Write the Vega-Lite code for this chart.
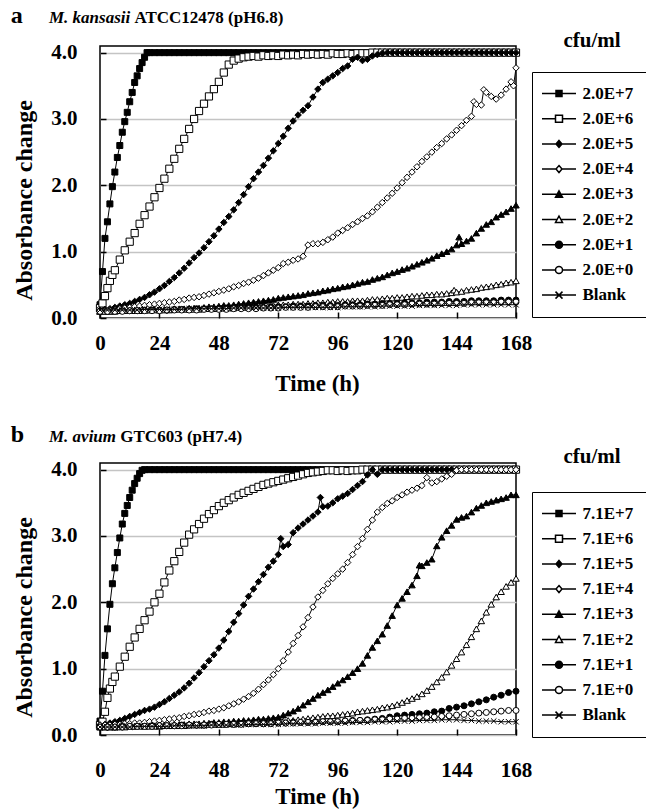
{
"$schema":"https://vega.github.io/schema/vega-lite/v6.json",
"background":"white",
"padding":{"left":10,"top":3,"right":0,"bottom":0},
"resolve":{"scale":{"shape":"independent","fill":"independent","stroke":"independent"},"legend":{"shape":"independent","fill":"independent","stroke":"independent"}},
"config":{
"view":{"stroke":"black","strokeWidth":1.5},
"axis":{"labelFont":"Liberation Serif","labelFontSize":21,"labelFontWeight":"bold","labelColor":"black","titleFont":"Liberation Serif","titleFontSize":23,"titleFontWeight":"bold","titleColor":"black","domain":false,"tickColor":"black","tickWidth":1.5,"tickSize":-6,"gridColor":"#c4c4c4","gridWidth":1.5,"labelFlush":false,"labelOverlap":false},
"axisX":{"grid":false,"titleX":217},
"axisY":{"grid":true,"labelPadding":29,"titlePadding":14,"titleY":154,"titleFontSize":24},
"text":{"font":"Liberation Serif","fontWeight":"bold","fontSize":17,"color":"black","align":"left","baseline":"alphabetic"},
"legend":{"orient":"none","title":null,"padding":13,"strokeColor":"black","symbolSize":4,"symbolStrokeWidth":1.5,"symbolStrokeColor":"black","symbolOpacity":1,"symbolOffset":5.5,"labelOffset":15,"rowPadding":7.2,"labelFont":"Liberation Serif","labelFontSize":17,"labelFontWeight":"bold","labelColor":"black"}
},
"datasets":{
"a7":[{"t":0,"v":0.2},{"t":1,"v":0.7},{"t":2,"v":1.2},{"t":3,"v":1.45},{"t":4,"v":1.72},{"t":5,"v":1.98},{"t":6,"v":2.2},{"t":7,"v":2.42},{"t":8,"v":2.6},{"t":9,"v":2.8},{"t":10,"v":2.96},{"t":11,"v":3.1},{"t":12,"v":3.26},{"t":13,"v":3.4},{"t":14,"v":3.55},{"t":15,"v":3.65},{"t":16,"v":3.76},{"t":17,"v":3.85},{"t":18,"v":3.93},{"t":19,"v":4},{"t":20,"v":4},{"t":22,"v":4},{"t":24,"v":4},{"t":26,"v":4},{"t":28,"v":4},{"t":30,"v":4},{"t":32,"v":4},{"t":34,"v":4},{"t":36,"v":4},{"t":38,"v":4},{"t":40,"v":4},{"t":42,"v":4},{"t":44,"v":4},{"t":46,"v":4},{"t":48,"v":4},{"t":50,"v":4},{"t":52,"v":4},{"t":54,"v":4},{"t":56,"v":4},{"t":58,"v":4},{"t":60,"v":4},{"t":62,"v":4},{"t":64,"v":4},{"t":66,"v":4},{"t":68,"v":4},{"t":70,"v":4},{"t":72,"v":4},{"t":74,"v":4},{"t":76,"v":4},{"t":78,"v":4},{"t":80,"v":4},{"t":82,"v":4},{"t":84,"v":4},{"t":86,"v":4},{"t":88,"v":4},{"t":90,"v":4},{"t":92,"v":4},{"t":94,"v":4},{"t":96,"v":4},{"t":98,"v":4},{"t":100,"v":4},{"t":102,"v":4},{"t":104,"v":4},{"t":106,"v":4},{"t":108,"v":4},{"t":110,"v":4},{"t":112,"v":4},{"t":114,"v":4},{"t":116,"v":4},{"t":118,"v":4},{"t":120,"v":4},{"t":122,"v":4},{"t":124,"v":4},{"t":126,"v":4},{"t":128,"v":4},{"t":130,"v":4},{"t":132,"v":4},{"t":134,"v":4},{"t":136,"v":4},{"t":138,"v":4},{"t":140,"v":4},{"t":142,"v":4},{"t":144,"v":4},{"t":146,"v":4},{"t":148,"v":4},{"t":150,"v":4},{"t":152,"v":4},{"t":154,"v":4},{"t":156,"v":4},{"t":158,"v":4},{"t":160,"v":4},{"t":162,"v":4},{"t":164,"v":4},{"t":166,"v":4},{"t":168,"v":4}],
"a6":[{"t":0,"v":0.15},{"t":1,"v":0.22},{"t":2,"v":0.33},{"t":3,"v":0.45},{"t":4,"v":0.56},{"t":5,"v":0.65},{"t":6,"v":0.72},{"t":8,"v":0.88},{"t":10,"v":1.02},{"t":12,"v":1.15},{"t":14,"v":1.28},{"t":16,"v":1.42},{"t":18,"v":1.55},{"t":20,"v":1.68},{"t":22,"v":1.82},{"t":24,"v":1.96},{"t":26,"v":2.1},{"t":28,"v":2.25},{"t":30,"v":2.4},{"t":32,"v":2.55},{"t":34,"v":2.7},{"t":36,"v":2.85},{"t":38,"v":3},{"t":40,"v":3.12},{"t":42,"v":3.23},{"t":44,"v":3.34},{"t":46,"v":3.45},{"t":48,"v":3.56},{"t":50,"v":3.7},{"t":52,"v":3.82},{"t":54,"v":3.88},{"t":56,"v":3.91},{"t":58,"v":3.93},{"t":60,"v":3.94},{"t":62,"v":3.95},{"t":64,"v":3.94},{"t":66,"v":3.96},{"t":68,"v":3.95},{"t":70,"v":3.96},{"t":72,"v":3.95},{"t":74,"v":3.97},{"t":76,"v":3.96},{"t":78,"v":3.97},{"t":80,"v":3.96},{"t":82,"v":3.98},{"t":84,"v":3.97},{"t":86,"v":3.98},{"t":88,"v":3.97},{"t":90,"v":3.98},{"t":92,"v":3.97},{"t":94,"v":3.99},{"t":96,"v":3.98},{"t":98,"v":3.98},{"t":100,"v":3.99},{"t":102,"v":3.98},{"t":104,"v":3.99},{"t":106,"v":3.99},{"t":108,"v":3.99},{"t":110,"v":4},{"t":112,"v":4},{"t":114,"v":4},{"t":116,"v":4},{"t":118,"v":4},{"t":120,"v":4},{"t":122,"v":4},{"t":124,"v":4},{"t":126,"v":4},{"t":128,"v":4},{"t":130,"v":4},{"t":132,"v":4},{"t":134,"v":4},{"t":136,"v":4},{"t":138,"v":4},{"t":140,"v":4},{"t":142,"v":4},{"t":144,"v":4},{"t":146,"v":4},{"t":148,"v":4},{"t":150,"v":4},{"t":152,"v":4},{"t":154,"v":4},{"t":156,"v":4},{"t":158,"v":4},{"t":160,"v":4},{"t":162,"v":4},{"t":164,"v":4},{"t":166,"v":4},{"t":168,"v":4}],
"a5":[{"t":0,"v":0.12},{"t":2,"v":0.13},{"t":4,"v":0.14},{"t":6,"v":0.16},{"t":8,"v":0.18},{"t":10,"v":0.2},{"t":12,"v":0.22},{"t":14,"v":0.25},{"t":16,"v":0.28},{"t":18,"v":0.31},{"t":20,"v":0.35},{"t":22,"v":0.39},{"t":24,"v":0.44},{"t":26,"v":0.49},{"t":28,"v":0.55},{"t":30,"v":0.61},{"t":32,"v":0.68},{"t":34,"v":0.75},{"t":36,"v":0.83},{"t":38,"v":0.91},{"t":40,"v":0.98},{"t":42,"v":1.06},{"t":44,"v":1.15},{"t":46,"v":1.24},{"t":48,"v":1.34},{"t":50,"v":1.44},{"t":52,"v":1.53},{"t":54,"v":1.63},{"t":56,"v":1.74},{"t":58,"v":1.86},{"t":60,"v":1.98},{"t":62,"v":2.1},{"t":64,"v":2.2},{"t":66,"v":2.3},{"t":68,"v":2.41},{"t":70,"v":2.52},{"t":72,"v":2.63},{"t":74,"v":2.74},{"t":76,"v":2.86},{"t":78,"v":2.97},{"t":80,"v":3.06},{"t":82,"v":3.13},{"t":84,"v":3.2},{"t":86,"v":3.33},{"t":88,"v":3.45},{"t":90,"v":3.55},{"t":92,"v":3.6},{"t":94,"v":3.65},{"t":96,"v":3.7},{"t":98,"v":3.76},{"t":100,"v":3.8},{"t":102,"v":3.9},{"t":104,"v":3.93},{"t":106,"v":3.88},{"t":108,"v":3.9},{"t":110,"v":3.95},{"t":112,"v":3.97},{"t":114,"v":3.99},{"t":116,"v":4},{"t":118,"v":4},{"t":120,"v":4},{"t":122,"v":4},{"t":124,"v":4},{"t":126,"v":4},{"t":128,"v":4},{"t":130,"v":4},{"t":132,"v":4},{"t":134,"v":4},{"t":136,"v":4},{"t":138,"v":4},{"t":140,"v":4},{"t":142,"v":4},{"t":144,"v":4},{"t":146,"v":4},{"t":148,"v":4},{"t":150,"v":4},{"t":152,"v":4},{"t":154,"v":4},{"t":156,"v":4},{"t":158,"v":4},{"t":160,"v":4},{"t":162,"v":4},{"t":164,"v":4},{"t":166,"v":4},{"t":168,"v":4}],
"a4":[{"t":0,"v":0.1},{"t":2,"v":0.11},{"t":4,"v":0.12},{"t":6,"v":0.13},{"t":8,"v":0.14},{"t":10,"v":0.15},{"t":12,"v":0.16},{"t":14,"v":0.17},{"t":16,"v":0.18},{"t":18,"v":0.19},{"t":20,"v":0.2},{"t":22,"v":0.21},{"t":24,"v":0.22},{"t":26,"v":0.23},{"t":28,"v":0.24},{"t":30,"v":0.25},{"t":32,"v":0.27},{"t":34,"v":0.28},{"t":36,"v":0.3},{"t":38,"v":0.31},{"t":40,"v":0.32},{"t":42,"v":0.34},{"t":44,"v":0.36},{"t":46,"v":0.38},{"t":48,"v":0.4},{"t":50,"v":0.42},{"t":52,"v":0.44},{"t":54,"v":0.47},{"t":56,"v":0.49},{"t":58,"v":0.52},{"t":60,"v":0.54},{"t":62,"v":0.57},{"t":64,"v":0.6},{"t":66,"v":0.64},{"t":68,"v":0.68},{"t":70,"v":0.72},{"t":72,"v":0.76},{"t":74,"v":0.82},{"t":76,"v":0.84},{"t":78,"v":0.87},{"t":80,"v":0.89},{"t":82,"v":0.93},{"t":84,"v":1.1},{"t":86,"v":1.12},{"t":88,"v":1.12},{"t":90,"v":1.14},{"t":92,"v":1.18},{"t":94,"v":1.22},{"t":96,"v":1.28},{"t":98,"v":1.32},{"t":100,"v":1.36},{"t":102,"v":1.41},{"t":104,"v":1.45},{"t":106,"v":1.5},{"t":108,"v":1.54},{"t":110,"v":1.6},{"t":112,"v":1.67},{"t":114,"v":1.74},{"t":116,"v":1.81},{"t":118,"v":1.88},{"t":120,"v":1.96},{"t":122,"v":2.04},{"t":124,"v":2.12},{"t":126,"v":2.2},{"t":128,"v":2.28},{"t":130,"v":2.36},{"t":132,"v":2.43},{"t":134,"v":2.5},{"t":136,"v":2.57},{"t":138,"v":2.63},{"t":140,"v":2.7},{"t":142,"v":2.76},{"t":144,"v":2.83},{"t":146,"v":2.9},{"t":148,"v":2.98},{"t":150,"v":3.04},{"t":151,"v":3.26},{"t":152,"v":3.22},{"t":154,"v":3.21},{"t":155,"v":3.44},{"t":156,"v":3.4},{"t":158,"v":3.34},{"t":160,"v":3.3},{"t":162,"v":3.36},{"t":164,"v":3.45},{"t":166,"v":3.56},{"t":167,"v":3.5},{"t":168,"v":3.77}],
"a3":[{"t":0,"v":0.1},{"t":2,"v":0.1},{"t":4,"v":0.1},{"t":6,"v":0.11},{"t":8,"v":0.11},{"t":10,"v":0.11},{"t":12,"v":0.11},{"t":14,"v":0.12},{"t":16,"v":0.12},{"t":18,"v":0.12},{"t":20,"v":0.12},{"t":22,"v":0.13},{"t":24,"v":0.13},{"t":26,"v":0.13},{"t":28,"v":0.13},{"t":30,"v":0.14},{"t":32,"v":0.14},{"t":34,"v":0.14},{"t":36,"v":0.15},{"t":38,"v":0.15},{"t":40,"v":0.15},{"t":42,"v":0.16},{"t":44,"v":0.17},{"t":46,"v":0.17},{"t":48,"v":0.18},{"t":50,"v":0.19},{"t":52,"v":0.19},{"t":54,"v":0.2},{"t":56,"v":0.21},{"t":58,"v":0.22},{"t":60,"v":0.23},{"t":62,"v":0.24},{"t":64,"v":0.25},{"t":66,"v":0.26},{"t":68,"v":0.27},{"t":70,"v":0.28},{"t":72,"v":0.3},{"t":74,"v":0.31},{"t":76,"v":0.32},{"t":78,"v":0.33},{"t":80,"v":0.34},{"t":82,"v":0.35},{"t":84,"v":0.37},{"t":86,"v":0.38},{"t":88,"v":0.39},{"t":90,"v":0.41},{"t":92,"v":0.42},{"t":94,"v":0.44},{"t":96,"v":0.45},{"t":98,"v":0.47},{"t":100,"v":0.48},{"t":102,"v":0.5},{"t":104,"v":0.52},{"t":106,"v":0.54},{"t":108,"v":0.55},{"t":110,"v":0.58},{"t":112,"v":0.6},{"t":114,"v":0.62},{"t":116,"v":0.65},{"t":118,"v":0.68},{"t":120,"v":0.7},{"t":122,"v":0.73},{"t":124,"v":0.75},{"t":126,"v":0.78},{"t":128,"v":0.81},{"t":130,"v":0.84},{"t":132,"v":0.87},{"t":134,"v":0.9},{"t":136,"v":0.94},{"t":138,"v":0.97},{"t":140,"v":1},{"t":142,"v":1.04},{"t":144,"v":1.1},{"t":145,"v":1.22},{"t":146,"v":1.12},{"t":148,"v":1.16},{"t":150,"v":1.2},{"t":152,"v":1.28},{"t":154,"v":1.35},{"t":156,"v":1.41},{"t":158,"v":1.45},{"t":160,"v":1.52},{"t":162,"v":1.56},{"t":164,"v":1.6},{"t":166,"v":1.65},{"t":168,"v":1.7}],
"a2":[{"t":0,"v":0.1},{"t":2,"v":0.1},{"t":4,"v":0.1},{"t":6,"v":0.1},{"t":8,"v":0.11},{"t":10,"v":0.11},{"t":12,"v":0.11},{"t":14,"v":0.11},{"t":16,"v":0.11},{"t":18,"v":0.12},{"t":20,"v":0.12},{"t":22,"v":0.12},{"t":24,"v":0.12},{"t":26,"v":0.12},{"t":28,"v":0.12},{"t":30,"v":0.13},{"t":32,"v":0.13},{"t":34,"v":0.13},{"t":36,"v":0.13},{"t":38,"v":0.13},{"t":40,"v":0.13},{"t":42,"v":0.14},{"t":44,"v":0.14},{"t":46,"v":0.14},{"t":48,"v":0.14},{"t":50,"v":0.15},{"t":52,"v":0.15},{"t":54,"v":0.15},{"t":56,"v":0.16},{"t":58,"v":0.16},{"t":60,"v":0.17},{"t":62,"v":0.17},{"t":64,"v":0.18},{"t":66,"v":0.18},{"t":68,"v":0.19},{"t":70,"v":0.19},{"t":72,"v":0.2},{"t":74,"v":0.2},{"t":76,"v":0.2},{"t":78,"v":0.21},{"t":80,"v":0.21},{"t":82,"v":0.21},{"t":84,"v":0.22},{"t":86,"v":0.22},{"t":88,"v":0.23},{"t":90,"v":0.23},{"t":92,"v":0.24},{"t":94,"v":0.24},{"t":96,"v":0.25},{"t":98,"v":0.25},{"t":100,"v":0.25},{"t":102,"v":0.26},{"t":104,"v":0.26},{"t":106,"v":0.26},{"t":108,"v":0.27},{"t":110,"v":0.28},{"t":112,"v":0.28},{"t":114,"v":0.29},{"t":116,"v":0.3},{"t":118,"v":0.3},{"t":120,"v":0.31},{"t":122,"v":0.31},{"t":124,"v":0.32},{"t":126,"v":0.33},{"t":128,"v":0.33},{"t":130,"v":0.34},{"t":132,"v":0.35},{"t":134,"v":0.35},{"t":136,"v":0.36},{"t":138,"v":0.36},{"t":140,"v":0.37},{"t":142,"v":0.38},{"t":143,"v":0.42},{"t":144,"v":0.39},{"t":146,"v":0.4},{"t":148,"v":0.42},{"t":150,"v":0.43},{"t":152,"v":0.44},{"t":154,"v":0.46},{"t":156,"v":0.47},{"t":158,"v":0.48},{"t":160,"v":0.5},{"t":162,"v":0.51},{"t":164,"v":0.53},{"t":166,"v":0.54},{"t":168,"v":0.56}],
"a1":[{"t":0,"v":0.1},{"t":3,"v":0.1},{"t":6,"v":0.11},{"t":9,"v":0.11},{"t":12,"v":0.11},{"t":15,"v":0.11},{"t":18,"v":0.12},{"t":21,"v":0.12},{"t":24,"v":0.12},{"t":27,"v":0.12},{"t":30,"v":0.13},{"t":33,"v":0.13},{"t":36,"v":0.13},{"t":39,"v":0.14},{"t":42,"v":0.14},{"t":45,"v":0.14},{"t":48,"v":0.14},{"t":51,"v":0.15},{"t":54,"v":0.15},{"t":57,"v":0.15},{"t":60,"v":0.16},{"t":63,"v":0.16},{"t":66,"v":0.16},{"t":69,"v":0.17},{"t":72,"v":0.17},{"t":75,"v":0.17},{"t":78,"v":0.18},{"t":81,"v":0.18},{"t":84,"v":0.18},{"t":87,"v":0.19},{"t":90,"v":0.19},{"t":93,"v":0.19},{"t":96,"v":0.19},{"t":99,"v":0.2},{"t":102,"v":0.2},{"t":105,"v":0.2},{"t":108,"v":0.21},{"t":111,"v":0.21},{"t":114,"v":0.22},{"t":117,"v":0.22},{"t":120,"v":0.22},{"t":123,"v":0.23},{"t":126,"v":0.23},{"t":129,"v":0.23},{"t":132,"v":0.24},{"t":135,"v":0.24},{"t":138,"v":0.24},{"t":141,"v":0.25},{"t":144,"v":0.25},{"t":147,"v":0.25},{"t":150,"v":0.26},{"t":153,"v":0.26},{"t":156,"v":0.26},{"t":159,"v":0.26},{"t":162,"v":0.27},{"t":165,"v":0.27},{"t":168,"v":0.27}],
"a0":[{"t":0,"v":0.1},{"t":3,"v":0.1},{"t":6,"v":0.1},{"t":9,"v":0.1},{"t":12,"v":0.11},{"t":15,"v":0.11},{"t":18,"v":0.11},{"t":21,"v":0.11},{"t":24,"v":0.11},{"t":27,"v":0.12},{"t":30,"v":0.12},{"t":33,"v":0.12},{"t":36,"v":0.12},{"t":39,"v":0.12},{"t":42,"v":0.13},{"t":45,"v":0.13},{"t":48,"v":0.13},{"t":51,"v":0.13},{"t":54,"v":0.14},{"t":57,"v":0.14},{"t":60,"v":0.14},{"t":63,"v":0.14},{"t":66,"v":0.15},{"t":69,"v":0.15},{"t":72,"v":0.15},{"t":75,"v":0.16},{"t":78,"v":0.16},{"t":81,"v":0.16},{"t":84,"v":0.16},{"t":87,"v":0.17},{"t":90,"v":0.17},{"t":93,"v":0.17},{"t":96,"v":0.17},{"t":99,"v":0.18},{"t":102,"v":0.18},{"t":105,"v":0.18},{"t":108,"v":0.19},{"t":111,"v":0.19},{"t":114,"v":0.19},{"t":117,"v":0.2},{"t":120,"v":0.2},{"t":123,"v":0.2},{"t":126,"v":0.21},{"t":129,"v":0.21},{"t":132,"v":0.21},{"t":135,"v":0.21},{"t":138,"v":0.22},{"t":141,"v":0.22},{"t":144,"v":0.22},{"t":147,"v":0.22},{"t":150,"v":0.23},{"t":153,"v":0.23},{"t":156,"v":0.23},{"t":159,"v":0.23},{"t":162,"v":0.24},{"t":165,"v":0.24},{"t":168,"v":0.24}],
"ab":[{"t":0,"v":0.12},{"t":3,"v":0.12},{"t":6,"v":0.12},{"t":9,"v":0.12},{"t":12,"v":0.12},{"t":15,"v":0.12},{"t":18,"v":0.13},{"t":21,"v":0.13},{"t":24,"v":0.13},{"t":27,"v":0.13},{"t":30,"v":0.13},{"t":33,"v":0.13},{"t":36,"v":0.14},{"t":39,"v":0.14},{"t":42,"v":0.14},{"t":45,"v":0.14},{"t":48,"v":0.14},{"t":51,"v":0.14},{"t":54,"v":0.15},{"t":57,"v":0.15},{"t":60,"v":0.15},{"t":63,"v":0.15},{"t":66,"v":0.15},{"t":69,"v":0.15},{"t":72,"v":0.15},{"t":75,"v":0.16},{"t":78,"v":0.16},{"t":81,"v":0.16},{"t":84,"v":0.16},{"t":87,"v":0.16},{"t":90,"v":0.16},{"t":93,"v":0.16},{"t":96,"v":0.16},{"t":99,"v":0.17},{"t":102,"v":0.17},{"t":105,"v":0.17},{"t":108,"v":0.17},{"t":111,"v":0.17},{"t":114,"v":0.18},{"t":117,"v":0.18},{"t":120,"v":0.18},{"t":123,"v":0.18},{"t":126,"v":0.18},{"t":129,"v":0.19},{"t":132,"v":0.19},{"t":135,"v":0.19},{"t":138,"v":0.19},{"t":141,"v":0.19},{"t":144,"v":0.19},{"t":147,"v":0.2},{"t":150,"v":0.2},{"t":153,"v":0.2},{"t":156,"v":0.2},{"t":159,"v":0.2},{"t":162,"v":0.2},{"t":165,"v":0.2},{"t":168,"v":0.2}],
"b7":[{"t":0,"v":0.21},{"t":1,"v":0.66},{"t":2,"v":1.2},{"t":3,"v":1.6},{"t":4,"v":1.97},{"t":5,"v":2.28},{"t":6,"v":2.52},{"t":7,"v":2.75},{"t":8,"v":2.97},{"t":9,"v":3.18},{"t":10,"v":3.34},{"t":11,"v":3.46},{"t":12,"v":3.58},{"t":13,"v":3.69},{"t":14,"v":3.79},{"t":15,"v":3.87},{"t":16,"v":3.94},{"t":17,"v":3.99},{"t":18,"v":4},{"t":20,"v":4},{"t":22,"v":4},{"t":24,"v":4},{"t":26,"v":4},{"t":28,"v":4},{"t":30,"v":4},{"t":32,"v":4},{"t":34,"v":4},{"t":36,"v":4},{"t":38,"v":4},{"t":40,"v":4},{"t":42,"v":4},{"t":44,"v":4},{"t":46,"v":4},{"t":48,"v":4},{"t":50,"v":4},{"t":52,"v":4},{"t":54,"v":4},{"t":56,"v":4},{"t":58,"v":4},{"t":60,"v":4},{"t":62,"v":4},{"t":64,"v":4},{"t":66,"v":4},{"t":68,"v":4},{"t":70,"v":4},{"t":72,"v":4},{"t":74,"v":4},{"t":76,"v":4},{"t":78,"v":4},{"t":80,"v":4},{"t":82,"v":4},{"t":84,"v":4},{"t":86,"v":4},{"t":88,"v":4},{"t":90,"v":4},{"t":92,"v":4},{"t":94,"v":4},{"t":96,"v":4},{"t":98,"v":4},{"t":100,"v":4},{"t":102,"v":4},{"t":104,"v":4},{"t":106,"v":4},{"t":108,"v":4},{"t":110,"v":4},{"t":112,"v":4},{"t":114,"v":4},{"t":116,"v":4},{"t":118,"v":4},{"t":120,"v":4},{"t":122,"v":4},{"t":124,"v":4},{"t":126,"v":4},{"t":128,"v":4},{"t":130,"v":4},{"t":132,"v":4},{"t":134,"v":4},{"t":136,"v":4},{"t":138,"v":4},{"t":140,"v":4},{"t":142,"v":4},{"t":144,"v":4},{"t":146,"v":4},{"t":148,"v":4},{"t":150,"v":4},{"t":152,"v":4},{"t":154,"v":4},{"t":156,"v":4},{"t":158,"v":4},{"t":160,"v":4},{"t":162,"v":4},{"t":164,"v":4},{"t":166,"v":4},{"t":168,"v":4}],
"b6":[{"t":0,"v":0.15},{"t":1,"v":0.2},{"t":2,"v":0.35},{"t":3,"v":0.56},{"t":4,"v":0.7},{"t":5,"v":0.8},{"t":6,"v":0.88},{"t":8,"v":1.03},{"t":10,"v":1.18},{"t":12,"v":1.33},{"t":14,"v":1.47},{"t":16,"v":1.6},{"t":18,"v":1.73},{"t":20,"v":1.86},{"t":22,"v":2},{"t":24,"v":2.13},{"t":26,"v":2.3},{"t":28,"v":2.48},{"t":30,"v":2.62},{"t":32,"v":2.76},{"t":34,"v":2.9},{"t":36,"v":3.02},{"t":38,"v":3.1},{"t":40,"v":3.18},{"t":42,"v":3.26},{"t":44,"v":3.33},{"t":46,"v":3.39},{"t":48,"v":3.45},{"t":50,"v":3.5},{"t":52,"v":3.54},{"t":54,"v":3.58},{"t":56,"v":3.62},{"t":58,"v":3.65},{"t":60,"v":3.68},{"t":62,"v":3.71},{"t":64,"v":3.74},{"t":66,"v":3.77},{"t":68,"v":3.79},{"t":70,"v":3.81},{"t":72,"v":3.83},{"t":74,"v":3.85},{"t":76,"v":3.87},{"t":78,"v":3.89},{"t":80,"v":3.91},{"t":82,"v":3.93},{"t":84,"v":3.95},{"t":86,"v":3.96},{"t":88,"v":3.97},{"t":90,"v":3.98},{"t":92,"v":3.99},{"t":94,"v":3.99},{"t":96,"v":3.98},{"t":98,"v":3.99},{"t":100,"v":3.98},{"t":102,"v":3.99},{"t":104,"v":3.99},{"t":106,"v":4},{"t":108,"v":4},{"t":110,"v":4},{"t":112,"v":4},{"t":114,"v":4},{"t":116,"v":4},{"t":118,"v":4},{"t":120,"v":4},{"t":122,"v":4},{"t":124,"v":4},{"t":126,"v":4},{"t":128,"v":4},{"t":130,"v":4},{"t":132,"v":4},{"t":134,"v":4},{"t":136,"v":4},{"t":138,"v":4},{"t":140,"v":4},{"t":142,"v":4},{"t":144,"v":4},{"t":146,"v":4},{"t":148,"v":4},{"t":150,"v":4},{"t":152,"v":4},{"t":154,"v":4},{"t":156,"v":4},{"t":158,"v":4},{"t":160,"v":4},{"t":162,"v":4},{"t":164,"v":4},{"t":166,"v":4},{"t":168,"v":4}],
"b5":[{"t":0,"v":0.15},{"t":2,"v":0.16},{"t":4,"v":0.18},{"t":6,"v":0.2},{"t":8,"v":0.22},{"t":10,"v":0.25},{"t":12,"v":0.28},{"t":14,"v":0.31},{"t":16,"v":0.34},{"t":18,"v":0.37},{"t":20,"v":0.39},{"t":22,"v":0.42},{"t":24,"v":0.46},{"t":26,"v":0.5},{"t":28,"v":0.55},{"t":30,"v":0.6},{"t":32,"v":0.65},{"t":34,"v":0.71},{"t":36,"v":0.78},{"t":38,"v":0.86},{"t":40,"v":0.94},{"t":42,"v":1.03},{"t":44,"v":1.12},{"t":46,"v":1.21},{"t":48,"v":1.31},{"t":50,"v":1.43},{"t":52,"v":1.56},{"t":54,"v":1.7},{"t":56,"v":1.83},{"t":58,"v":1.96},{"t":60,"v":2.09},{"t":62,"v":2.2},{"t":64,"v":2.31},{"t":66,"v":2.42},{"t":68,"v":2.53},{"t":70,"v":2.62},{"t":72,"v":2.72},{"t":73,"v":2.96},{"t":74,"v":2.84},{"t":76,"v":2.87},{"t":78,"v":3.05},{"t":80,"v":3.12},{"t":82,"v":3.18},{"t":84,"v":3.24},{"t":86,"v":3.3},{"t":88,"v":3.36},{"t":89,"v":3.58},{"t":90,"v":3.44},{"t":92,"v":3.45},{"t":94,"v":3.5},{"t":96,"v":3.56},{"t":98,"v":3.6},{"t":100,"v":3.64},{"t":102,"v":3.7},{"t":104,"v":3.76},{"t":106,"v":3.82},{"t":108,"v":3.92},{"t":110,"v":4},{"t":112,"v":3.93},{"t":114,"v":4},{"t":116,"v":4},{"t":118,"v":4},{"t":120,"v":4},{"t":122,"v":4},{"t":124,"v":4},{"t":126,"v":4},{"t":128,"v":4},{"t":130,"v":4},{"t":132,"v":4},{"t":134,"v":4},{"t":136,"v":4},{"t":138,"v":4},{"t":140,"v":4},{"t":142,"v":4},{"t":144,"v":4},{"t":146,"v":4},{"t":148,"v":4},{"t":150,"v":4},{"t":152,"v":4},{"t":154,"v":4},{"t":156,"v":4},{"t":158,"v":4},{"t":160,"v":4},{"t":162,"v":4},{"t":164,"v":4},{"t":166,"v":4},{"t":168,"v":4}],
"b4":[{"t":0,"v":0.15},{"t":2,"v":0.15},{"t":4,"v":0.15},{"t":6,"v":0.16},{"t":8,"v":0.16},{"t":10,"v":0.17},{"t":12,"v":0.17},{"t":14,"v":0.18},{"t":16,"v":0.18},{"t":18,"v":0.19},{"t":20,"v":0.2},{"t":22,"v":0.21},{"t":24,"v":0.22},{"t":26,"v":0.23},{"t":28,"v":0.24},{"t":30,"v":0.25},{"t":32,"v":0.26},{"t":34,"v":0.28},{"t":36,"v":0.29},{"t":38,"v":0.31},{"t":40,"v":0.32},{"t":42,"v":0.34},{"t":44,"v":0.36},{"t":46,"v":0.37},{"t":48,"v":0.39},{"t":50,"v":0.41},{"t":52,"v":0.44},{"t":54,"v":0.47},{"t":56,"v":0.5},{"t":58,"v":0.54},{"t":60,"v":0.58},{"t":62,"v":0.63},{"t":64,"v":0.69},{"t":66,"v":0.76},{"t":68,"v":0.83},{"t":70,"v":0.91},{"t":72,"v":1},{"t":74,"v":1.12},{"t":76,"v":1.25},{"t":78,"v":1.38},{"t":80,"v":1.5},{"t":82,"v":1.63},{"t":84,"v":1.77},{"t":86,"v":1.93},{"t":88,"v":2.08},{"t":90,"v":2.18},{"t":92,"v":2.28},{"t":94,"v":2.36},{"t":96,"v":2.43},{"t":98,"v":2.5},{"t":100,"v":2.6},{"t":102,"v":2.72},{"t":104,"v":2.84},{"t":106,"v":2.96},{"t":108,"v":3.1},{"t":110,"v":3.24},{"t":112,"v":3.36},{"t":114,"v":3.43},{"t":116,"v":3.49},{"t":118,"v":3.53},{"t":120,"v":3.58},{"t":122,"v":3.62},{"t":124,"v":3.66},{"t":126,"v":3.69},{"t":128,"v":3.72},{"t":130,"v":3.76},{"t":132,"v":3.88},{"t":134,"v":3.8},{"t":136,"v":3.82},{"t":138,"v":3.86},{"t":140,"v":3.9},{"t":142,"v":3.93},{"t":144,"v":3.99},{"t":146,"v":4},{"t":148,"v":4},{"t":150,"v":4},{"t":152,"v":4},{"t":154,"v":4},{"t":156,"v":4},{"t":158,"v":4},{"t":160,"v":4},{"t":162,"v":4},{"t":164,"v":4},{"t":166,"v":4},{"t":168,"v":4}],
"b3":[{"t":0,"v":0.12},{"t":2,"v":0.12},{"t":4,"v":0.12},{"t":6,"v":0.12},{"t":8,"v":0.13},{"t":10,"v":0.13},{"t":12,"v":0.13},{"t":14,"v":0.13},{"t":16,"v":0.14},{"t":18,"v":0.14},{"t":20,"v":0.14},{"t":22,"v":0.14},{"t":24,"v":0.15},{"t":26,"v":0.15},{"t":28,"v":0.15},{"t":30,"v":0.16},{"t":32,"v":0.16},{"t":34,"v":0.16},{"t":36,"v":0.17},{"t":38,"v":0.17},{"t":40,"v":0.17},{"t":42,"v":0.18},{"t":44,"v":0.18},{"t":46,"v":0.19},{"t":48,"v":0.19},{"t":50,"v":0.2},{"t":52,"v":0.2},{"t":54,"v":0.21},{"t":56,"v":0.21},{"t":58,"v":0.22},{"t":60,"v":0.22},{"t":62,"v":0.23},{"t":64,"v":0.24},{"t":66,"v":0.24},{"t":68,"v":0.25},{"t":70,"v":0.26},{"t":72,"v":0.27},{"t":74,"v":0.3},{"t":76,"v":0.33},{"t":78,"v":0.36},{"t":80,"v":0.4},{"t":82,"v":0.45},{"t":84,"v":0.5},{"t":86,"v":0.55},{"t":88,"v":0.6},{"t":90,"v":0.64},{"t":92,"v":0.68},{"t":94,"v":0.73},{"t":96,"v":0.78},{"t":98,"v":0.83},{"t":100,"v":0.88},{"t":102,"v":0.94},{"t":104,"v":1},{"t":106,"v":1.08},{"t":108,"v":1.2},{"t":110,"v":1.32},{"t":112,"v":1.42},{"t":114,"v":1.52},{"t":116,"v":1.65},{"t":118,"v":1.8},{"t":120,"v":1.96},{"t":122,"v":2.06},{"t":124,"v":2.16},{"t":126,"v":2.26},{"t":128,"v":2.4},{"t":129,"v":2.56},{"t":130,"v":2.55},{"t":132,"v":2.6},{"t":134,"v":2.65},{"t":136,"v":2.85},{"t":138,"v":2.98},{"t":140,"v":3.08},{"t":142,"v":3.16},{"t":144,"v":3.25},{"t":146,"v":3.28},{"t":148,"v":3.3},{"t":150,"v":3.36},{"t":152,"v":3.42},{"t":154,"v":3.46},{"t":156,"v":3.5},{"t":158,"v":3.52},{"t":160,"v":3.54},{"t":162,"v":3.56},{"t":164,"v":3.58},{"t":166,"v":3.62},{"t":168,"v":3.62}],
"b2":[{"t":0,"v":0.12},{"t":2,"v":0.12},{"t":4,"v":0.12},{"t":6,"v":0.12},{"t":8,"v":0.12},{"t":10,"v":0.12},{"t":12,"v":0.13},{"t":14,"v":0.13},{"t":16,"v":0.13},{"t":18,"v":0.13},{"t":20,"v":0.13},{"t":22,"v":0.13},{"t":24,"v":0.13},{"t":26,"v":0.14},{"t":28,"v":0.14},{"t":30,"v":0.14},{"t":32,"v":0.14},{"t":34,"v":0.14},{"t":36,"v":0.15},{"t":38,"v":0.15},{"t":40,"v":0.15},{"t":42,"v":0.15},{"t":44,"v":0.16},{"t":46,"v":0.16},{"t":48,"v":0.16},{"t":50,"v":0.16},{"t":52,"v":0.17},{"t":54,"v":0.17},{"t":56,"v":0.17},{"t":58,"v":0.18},{"t":60,"v":0.18},{"t":62,"v":0.18},{"t":64,"v":0.19},{"t":66,"v":0.19},{"t":68,"v":0.19},{"t":70,"v":0.2},{"t":72,"v":0.2},{"t":74,"v":0.21},{"t":76,"v":0.22},{"t":78,"v":0.22},{"t":80,"v":0.23},{"t":82,"v":0.24},{"t":84,"v":0.25},{"t":86,"v":0.26},{"t":88,"v":0.27},{"t":90,"v":0.28},{"t":92,"v":0.29},{"t":94,"v":0.29},{"t":96,"v":0.3},{"t":98,"v":0.31},{"t":100,"v":0.32},{"t":102,"v":0.33},{"t":104,"v":0.35},{"t":106,"v":0.36},{"t":108,"v":0.37},{"t":110,"v":0.38},{"t":112,"v":0.39},{"t":114,"v":0.41},{"t":116,"v":0.42},{"t":118,"v":0.44},{"t":120,"v":0.46},{"t":122,"v":0.49},{"t":124,"v":0.52},{"t":126,"v":0.55},{"t":128,"v":0.58},{"t":130,"v":0.62},{"t":132,"v":0.67},{"t":134,"v":0.73},{"t":136,"v":0.8},{"t":138,"v":0.87},{"t":140,"v":0.95},{"t":142,"v":1.05},{"t":144,"v":1.15},{"t":146,"v":1.25},{"t":148,"v":1.36},{"t":150,"v":1.48},{"t":152,"v":1.6},{"t":154,"v":1.72},{"t":156,"v":1.85},{"t":158,"v":1.97},{"t":160,"v":2.08},{"t":162,"v":2.16},{"t":164,"v":2.24},{"t":166,"v":2.3},{"t":168,"v":2.36}],
"b1":[{"t":0,"v":0.12},{"t":3,"v":0.12},{"t":6,"v":0.12},{"t":9,"v":0.13},{"t":12,"v":0.13},{"t":15,"v":0.13},{"t":18,"v":0.13},{"t":21,"v":0.14},{"t":24,"v":0.14},{"t":27,"v":0.14},{"t":30,"v":0.14},{"t":33,"v":0.15},{"t":36,"v":0.15},{"t":39,"v":0.15},{"t":42,"v":0.15},{"t":45,"v":0.16},{"t":48,"v":0.16},{"t":51,"v":0.16},{"t":54,"v":0.16},{"t":57,"v":0.17},{"t":60,"v":0.17},{"t":63,"v":0.17},{"t":66,"v":0.17},{"t":69,"v":0.18},{"t":72,"v":0.18},{"t":75,"v":0.18},{"t":78,"v":0.19},{"t":81,"v":0.19},{"t":84,"v":0.19},{"t":87,"v":0.2},{"t":90,"v":0.2},{"t":93,"v":0.2},{"t":96,"v":0.2},{"t":99,"v":0.21},{"t":102,"v":0.22},{"t":105,"v":0.22},{"t":108,"v":0.23},{"t":111,"v":0.24},{"t":114,"v":0.25},{"t":117,"v":0.27},{"t":120,"v":0.29},{"t":123,"v":0.3},{"t":126,"v":0.31},{"t":129,"v":0.32},{"t":132,"v":0.33},{"t":135,"v":0.35},{"t":138,"v":0.36},{"t":141,"v":0.4},{"t":144,"v":0.42},{"t":147,"v":0.44},{"t":150,"v":0.47},{"t":153,"v":0.5},{"t":156,"v":0.53},{"t":159,"v":0.57},{"t":162,"v":0.6},{"t":165,"v":0.64},{"t":168,"v":0.66}],
"b0":[{"t":0,"v":0.12},{"t":3,"v":0.12},{"t":6,"v":0.12},{"t":9,"v":0.12},{"t":12,"v":0.13},{"t":15,"v":0.13},{"t":18,"v":0.13},{"t":21,"v":0.13},{"t":24,"v":0.14},{"t":27,"v":0.14},{"t":30,"v":0.14},{"t":33,"v":0.14},{"t":36,"v":0.15},{"t":39,"v":0.15},{"t":42,"v":0.15},{"t":45,"v":0.15},{"t":48,"v":0.16},{"t":51,"v":0.16},{"t":54,"v":0.16},{"t":57,"v":0.16},{"t":60,"v":0.17},{"t":63,"v":0.17},{"t":66,"v":0.17},{"t":69,"v":0.17},{"t":72,"v":0.18},{"t":75,"v":0.18},{"t":78,"v":0.18},{"t":81,"v":0.19},{"t":84,"v":0.19},{"t":87,"v":0.19},{"t":90,"v":0.2},{"t":93,"v":0.2},{"t":96,"v":0.2},{"t":99,"v":0.21},{"t":102,"v":0.21},{"t":105,"v":0.22},{"t":108,"v":0.22},{"t":111,"v":0.23},{"t":114,"v":0.23},{"t":117,"v":0.24},{"t":120,"v":0.24},{"t":123,"v":0.25},{"t":126,"v":0.25},{"t":129,"v":0.26},{"t":132,"v":0.26},{"t":135,"v":0.27},{"t":138,"v":0.28},{"t":141,"v":0.29},{"t":144,"v":0.3},{"t":147,"v":0.31},{"t":150,"v":0.32},{"t":153,"v":0.33},{"t":156,"v":0.34},{"t":159,"v":0.35},{"t":162,"v":0.36},{"t":165,"v":0.37},{"t":168,"v":0.37}],
"bb":[{"t":0,"v":0.12},{"t":3,"v":0.12},{"t":6,"v":0.12},{"t":9,"v":0.12},{"t":12,"v":0.12},{"t":15,"v":0.13},{"t":18,"v":0.13},{"t":21,"v":0.13},{"t":24,"v":0.13},{"t":27,"v":0.13},{"t":30,"v":0.14},{"t":33,"v":0.14},{"t":36,"v":0.14},{"t":39,"v":0.14},{"t":42,"v":0.14},{"t":45,"v":0.15},{"t":48,"v":0.15},{"t":51,"v":0.15},{"t":54,"v":0.15},{"t":57,"v":0.15},{"t":60,"v":0.16},{"t":63,"v":0.16},{"t":66,"v":0.16},{"t":69,"v":0.16},{"t":72,"v":0.16},{"t":75,"v":0.17},{"t":78,"v":0.17},{"t":81,"v":0.17},{"t":84,"v":0.17},{"t":87,"v":0.17},{"t":90,"v":0.18},{"t":93,"v":0.18},{"t":96,"v":0.18},{"t":99,"v":0.18},{"t":102,"v":0.19},{"t":105,"v":0.19},{"t":108,"v":0.19},{"t":111,"v":0.2},{"t":114,"v":0.2},{"t":117,"v":0.2},{"t":120,"v":0.21},{"t":123,"v":0.21},{"t":126,"v":0.21},{"t":129,"v":0.22},{"t":132,"v":0.22},{"t":135,"v":0.22},{"t":138,"v":0.23},{"t":141,"v":0.23},{"t":144,"v":0.23},{"t":147,"v":0.22},{"t":150,"v":0.22},{"t":153,"v":0.21},{"t":156,"v":0.21},{"t":159,"v":0.21},{"t":162,"v":0.2},{"t":165,"v":0.2},{"t":168,"v":0.2}]
},
"spacing":26,
"vconcat":[
{
"width":416,"height":272,
"layer":[
{
"encoding":{
"x":{"field":"t","type":"quantitative","scale":{"domain":[0,168],"nice":false},"axis":{"values":[0,24,48,72,96,120,144,168],"title":"Time (h)","labelPadding":20,"titlePadding":19}},
"y":{"field":"v","type":"quantitative","scale":{"domain":[0,4.1],"nice":false},"axis":{"values":[0,1,2,3,4],"format":".1f","title":"Absorbance change"}}
},
"layer":[
{"data":{"name":"a7"},"mark":{"type":"line","stroke":"black","strokeWidth":1,"point":{"filled":true,"shape":"square","size":36,"fill":"black","stroke":"black","strokeWidth":1}}},
{"data":{"name":"a6"},"mark":{"type":"line","stroke":"black","strokeWidth":1,"point":{"filled":true,"shape":"square","size":52,"fill":"white","stroke":"black","strokeWidth":1}}},
{"data":{"name":"a5"},"mark":{"type":"line","stroke":"black","strokeWidth":1,"point":{"filled":true,"shape":"diamond","size":42,"fill":"black","stroke":"black","strokeWidth":1}}},
{"data":{"name":"a4"},"mark":{"type":"line","stroke":"black","strokeWidth":1,"point":{"filled":true,"shape":"diamond","size":42,"fill":"white","stroke":"black","strokeWidth":1}}},
{"data":{"name":"a3"},"mark":{"type":"line","stroke":"black","strokeWidth":1,"point":{"filled":true,"shape":"triangle-up","size":42,"fill":"black","stroke":"black","strokeWidth":1}}},
{"data":{"name":"a2"},"mark":{"type":"line","stroke":"black","strokeWidth":1,"point":{"filled":true,"shape":"triangle-up","size":42,"fill":"white","stroke":"black","strokeWidth":1}}},
{"data":{"name":"a1"},"mark":{"type":"line","stroke":"black","strokeWidth":1,"point":{"filled":true,"shape":"circle","size":36,"fill":"black","stroke":"black","strokeWidth":1}}},
{"data":{"name":"a0"},"mark":{"type":"line","stroke":"black","strokeWidth":1,"point":{"filled":true,"shape":"circle","size":36,"fill":"white","stroke":"black","strokeWidth":1}}},
{"data":{"name":"ab"},"mark":{"type":"line","stroke":"black","strokeWidth":1,"point":{"filled":true,"shape":"M-1,-1L1,1M-1,1L1,-1","size":30,"fill":"black","stroke":"black","strokeWidth":1}}},
{"data":{"values":[{"s":"2.0E+7"},{"s":"2.0E+6"},{"s":"2.0E+5"},{"s":"2.0E+4"},{"s":"2.0E+3"},{"s":"2.0E+2"},{"s":"2.0E+1"},{"s":"2.0E+0"},{"s":"Blank"}]},
"mark":{"type":"point","filled":true,"strokeWidth":1.5,"opacity":1},
"encoding":{
"shape":{"field":"s","type":"nominal","scale":{"domain":["2.0E+7","2.0E+6","2.0E+5","2.0E+4","2.0E+3","2.0E+2","2.0E+1","2.0E+0","Blank"],"range":["M-17,0H17M-3,-3H3V3H-3Z","M-17,0H-3.5M3.5,0H17M-3.5,-3.5H3.5V3.5H-3.5Z","M-17,0H17M0,-3.5L3,0L0,3.5L-3,0Z","M-17,0H-3M3,0H17M0,-3.5L3,0L0,3.5L-3,0Z","M-17,0H17M0,-3.5L3.5,3L-3.5,3Z","M-17,0H-2M2,0H17M0,-3.5L3.5,3L-3.5,3Z","M-17,0H17M-3.5,0A3.5,3.5,0,1,0,3.5,0A3.5,3.5,0,1,0,-3.5,0Z","M-17,0H-3.5M3.5,0H17M-3.5,0A3.5,3.5,0,1,0,3.5,0A3.5,3.5,0,1,0,-3.5,0Z","M-17,0H17M-3.5,-3.5L3.5,3.5M-3.5,3.5L3.5,-3.5"]},"legend":{"legendX":432,"legendY":26}},
"fill":{"field":"s","type":"nominal","scale":{"domain":["2.0E+7","2.0E+6","2.0E+5","2.0E+4","2.0E+3","2.0E+2","2.0E+1","2.0E+0","Blank"],"range":["black","white","black","white","black","white","black","white","black"]},"legend":{"legendX":432,"legendY":26}},
"stroke":{"field":"s","type":"nominal","scale":{"domain":["2.0E+7","2.0E+6","2.0E+5","2.0E+4","2.0E+3","2.0E+2","2.0E+1","2.0E+0","Blank"],"range":["black","black","black","black","black","black","black","black","black"]},"legend":{"legendX":432,"legendY":26}}
}}
]
},
{"data":{"values":[{}]},"mark":{"type":"text","text":"a","fontSize":24},"encoding":{"x":{"datum":-36,"type":"quantitative"},"y":{"datum":4.44,"type":"quantitative"}}},
{"data":{"values":[{}]},"mark":{"type":"text","text":"M. kansasii","fontStyle":"italic"},"encoding":{"x":{"datum":-20.6,"type":"quantitative"},"y":{"datum":4.44,"type":"quantitative"}}},
{"data":{"values":[{}]},"mark":{"type":"text","text":"ATCC12478 (pH6.8)"},"encoding":{"x":{"datum":13.9,"type":"quantitative"},"y":{"datum":4.44,"type":"quantitative"}}},
{"data":{"values":[{}]},"mark":{"type":"text","text":"cfu/ml","align":"center","fontSize":21},"encoding":{"x":{"datum":198.7,"type":"quantitative"},"y":{"datum":4.085,"type":"quantitative"}}}
]
},
{
"width":416,"height":272,
"layer":[
{
"encoding":{
"x":{"field":"t","type":"quantitative","scale":{"domain":[0,168],"nice":false},"axis":{"values":[0,24,48,72,96,120,144,168],"title":"Time (h)","labelPadding":30,"titlePadding":5}},
"y":{"field":"v","type":"quantitative","scale":{"domain":[0,4.1],"nice":false},"axis":{"values":[0,1,2,3,4],"format":".1f","title":"Absorbance change"}}
},
"layer":[
{"data":{"name":"b7"},"mark":{"type":"line","stroke":"black","strokeWidth":1,"point":{"filled":true,"shape":"square","size":36,"fill":"black","stroke":"black","strokeWidth":1}}},
{"data":{"name":"b6"},"mark":{"type":"line","stroke":"black","strokeWidth":1,"point":{"filled":true,"shape":"square","size":52,"fill":"white","stroke":"black","strokeWidth":1}}},
{"data":{"name":"b5"},"mark":{"type":"line","stroke":"black","strokeWidth":1,"point":{"filled":true,"shape":"diamond","size":42,"fill":"black","stroke":"black","strokeWidth":1}}},
{"data":{"name":"b4"},"mark":{"type":"line","stroke":"black","strokeWidth":1,"point":{"filled":true,"shape":"diamond","size":42,"fill":"white","stroke":"black","strokeWidth":1}}},
{"data":{"name":"b3"},"mark":{"type":"line","stroke":"black","strokeWidth":1,"point":{"filled":true,"shape":"triangle-up","size":42,"fill":"black","stroke":"black","strokeWidth":1}}},
{"data":{"name":"b2"},"mark":{"type":"line","stroke":"black","strokeWidth":1,"point":{"filled":true,"shape":"triangle-up","size":42,"fill":"white","stroke":"black","strokeWidth":1}}},
{"data":{"name":"b1"},"mark":{"type":"line","stroke":"black","strokeWidth":1,"point":{"filled":true,"shape":"circle","size":36,"fill":"black","stroke":"black","strokeWidth":1}}},
{"data":{"name":"b0"},"mark":{"type":"line","stroke":"black","strokeWidth":1,"point":{"filled":true,"shape":"circle","size":36,"fill":"white","stroke":"black","strokeWidth":1}}},
{"data":{"name":"bb"},"mark":{"type":"line","stroke":"black","strokeWidth":1,"point":{"filled":true,"shape":"M-1,-1L1,1M-1,1L1,-1","size":30,"fill":"black","stroke":"black","strokeWidth":1}}},
{"data":{"values":[{"s":"7.1E+7"},{"s":"7.1E+6"},{"s":"7.1E+5"},{"s":"7.1E+4"},{"s":"7.1E+3"},{"s":"7.1E+2"},{"s":"7.1E+1"},{"s":"7.1E+0"},{"s":"Blank"}]},
"mark":{"type":"point","filled":true,"strokeWidth":1.5,"opacity":1},
"encoding":{
"shape":{"field":"s","type":"nominal","scale":{"domain":["7.1E+7","7.1E+6","7.1E+5","7.1E+4","7.1E+3","7.1E+2","7.1E+1","7.1E+0","Blank"],"range":["M-17,0H17M-3,-3H3V3H-3Z","M-17,0H-3.5M3.5,0H17M-3.5,-3.5H3.5V3.5H-3.5Z","M-17,0H17M0,-3.5L3,0L0,3.5L-3,0Z","M-17,0H-3M3,0H17M0,-3.5L3,0L0,3.5L-3,0Z","M-17,0H17M0,-3.5L3.5,3L-3.5,3Z","M-17,0H-2M2,0H17M0,-3.5L3.5,3L-3.5,3Z","M-17,0H17M-3.5,0A3.5,3.5,0,1,0,3.5,0A3.5,3.5,0,1,0,-3.5,0Z","M-17,0H-3.5M3.5,0H17M-3.5,0A3.5,3.5,0,1,0,3.5,0A3.5,3.5,0,1,0,-3.5,0Z","M-17,0H17M-3.5,-3.5L3.5,3.5M-3.5,3.5L3.5,-3.5"]},"legend":{"legendX":432,"legendY":29}},
"fill":{"field":"s","type":"nominal","scale":{"domain":["7.1E+7","7.1E+6","7.1E+5","7.1E+4","7.1E+3","7.1E+2","7.1E+1","7.1E+0","Blank"],"range":["black","white","black","white","black","white","black","white","black"]},"legend":{"legendX":432,"legendY":29}},
"stroke":{"field":"s","type":"nominal","scale":{"domain":["7.1E+7","7.1E+6","7.1E+5","7.1E+4","7.1E+3","7.1E+2","7.1E+1","7.1E+0","Blank"],"range":["black","black","black","black","black","black","black","black","black"]},"legend":{"legendX":432,"legendY":29}}
}}
]
},
{"data":{"values":[{}]},"mark":{"type":"text","text":"b","fontSize":24},"encoding":{"x":{"datum":-36,"type":"quantitative"},"y":{"datum":4.42,"type":"quantitative"}}},
{"data":{"values":[{}]},"mark":{"type":"text","text":"M. avium","fontStyle":"italic"},"encoding":{"x":{"datum":-20.6,"type":"quantitative"},"y":{"datum":4.42,"type":"quantitative"}}},
{"data":{"values":[{}]},"mark":{"type":"text","text":"GTC603 (pH7.4)"},"encoding":{"x":{"datum":8.2,"type":"quantitative"},"y":{"datum":4.42,"type":"quantitative"}}},
{"data":{"values":[{}]},"mark":{"type":"text","text":"cfu/ml","align":"center","fontSize":21},"encoding":{"x":{"datum":198.7,"type":"quantitative"},"y":{"datum":4.1,"type":"quantitative"}}}
]
}
]
}
